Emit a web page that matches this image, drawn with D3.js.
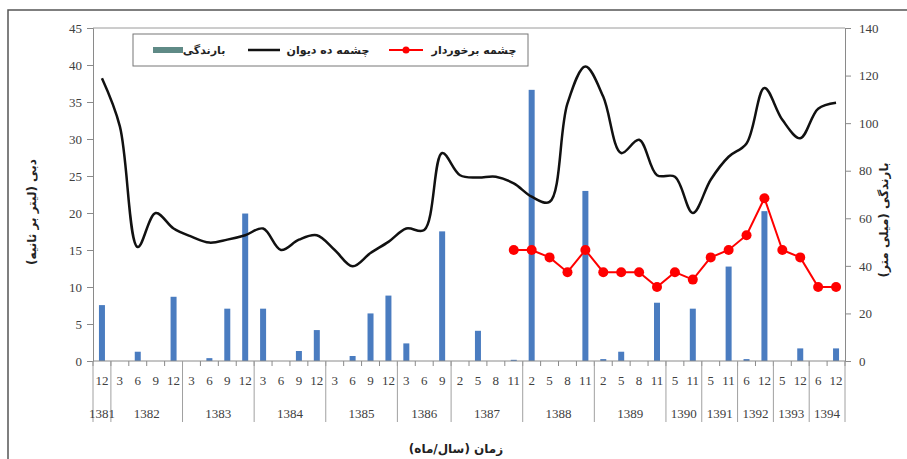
<!DOCTYPE html>
<html>
<head>
<meta charset="utf-8">
<script src="https://cdn.jsdelivr.net/npm/d3@7"></script>
<style>
  body { margin: 0; background: #fff; }
</style>
</head>
<body>
<div id="chart"></div>
<script>
// month of each sample (x categories)
var months = ["12","3","6","9","12","3","6","9","12","3","6","9","12","3","6","9","12",
  "3","6","9","2","5","8","11","2","5","8","11","2","5","8","11","5","11","5","11","6","12","5","12","6","12"];
// year groups and how many samples each one has
var years = ["1381","1382","1383","1384","1385","1386","1387","1388","1389","1390","1391","1392","1393","1394"];
var yearCounts = [1,4,4,4,4,3,4,4,4,2,2,2,2,2];

// rainfall (mm), right axis
var rainfall = [23.5,0,3.9,0,27,0,1.2,22,62,22,0,4.2,13,0,2.1,20,27.5,7.4,0,54.5,0,12.7,0,0.5,
  114,0,0,71.5,0.8,3.9,0,24.5,0,22,0,39.7,0.8,63,0,5.3,0,5.3];
// discharge of Deh Divan spring (l/s), left axis
var dehDivan = [38.2,31.7,15.4,20,17.9,16.8,16,16.4,17,17.9,15,16.4,17,15,12.8,14.6,16.1,17.9,17.7,28.1,
  25.1,24.8,24.9,24,22.2,21.5,34.8,39.8,35.7,28.1,29.9,25.1,24.9,20,24.5,27.6,29.4,36.9,32.6,30.1,34.1,34.9];
// discharge of Barkhordar spring (l/s), left axis
var barkhordar = [null,null,null,null,null,null,null,null,null,null,null,null,null,null,null,null,null,null,null,null,null,null,null,
  15,15,14,12,15,12,12,12,10,12,11,14,15,17,22,15,14,10,10];

var leftTicks = d3.range(0, 46, 5);
var rightTicks = d3.range(0, 141, 20);

var width = 907, height = 459;
var pLeft = 93, pRight = 845, pTop = 28, pBottom = 361;

var svg = d3.select("#chart").append("svg")
    .attr("width", width)
    .attr("height", height);

svg.append("rect")
    .attr("x", 8).attr("y", 10)
    .attr("width", 940).attr("height", 480)
    .attr("fill", "#fff")
    .attr("stroke", "#555").attr("stroke-width", 1.5);

var x = d3.scaleBand().domain(d3.range(months.length)).range([pLeft, pRight]);
var yL = d3.scaleLinear().domain([0, 45]).range([pBottom, pTop]);
var yR = d3.scaleLinear().domain([0, 140]).range([pBottom, pTop]);

function cx(i) { return x(i) + x.bandwidth() / 2; }

// plot frame top line
svg.append("line")
    .attr("x1", pLeft).attr("x2", pRight).attr("y1", pTop).attr("y2", pTop)
    .attr("stroke", "#9a9a9a");

// bars
svg.append("g").selectAll("rect")
  .data(rainfall)
  .enter().append("rect")
    .attr("x", function(d, i) { return cx(i) - 3; })
    .attr("y", function(d) { return yR(d); })
    .attr("width", 6)
    .attr("height", function(d) { return pBottom - yR(d); })
    .attr("fill", "#4a7cc0");

// smooth black line
var blackLine = d3.line()
    .x(function(d, i) { return cx(i); })
    .y(function(d) { return yL(d); })
    .curve(d3.curveCatmullRom.alpha(0.5));

svg.append("path")
    .datum(dehDivan)
    .attr("d", blackLine)
    .attr("fill", "none")
    .attr("stroke", "#111")
    .attr("stroke-width", 2.5);

// red line with markers
var redLine = d3.line()
    .defined(function(d) { return d != null; })
    .x(function(d, i) { return cx(i); })
    .y(function(d) { return yL(d); });

svg.append("path")
    .datum(barkhordar)
    .attr("d", redLine)
    .attr("fill", "none")
    .attr("stroke", "#ff0000")
    .attr("stroke-width", 2);

svg.append("g").selectAll("circle")
  .data(barkhordar.map(function(d, i) { return {v: d, i: i}; }).filter(function(d) { return d.v != null; }))
  .enter().append("circle")
    .attr("cx", function(d) { return cx(d.i); })
    .attr("cy", function(d) { return yL(d.v); })
    .attr("r", 5)
    .attr("fill", "#ff0000");

// axes
var gL = svg.append("g")
    .attr("transform", "translate(" + pLeft + ",0)")
    .call(d3.axisLeft(yL).tickValues(leftTicks).tickSize(6).tickPadding(5));
var gR = svg.append("g")
    .attr("transform", "translate(" + pRight + ",0)")
    .call(d3.axisRight(yR).tickValues(rightTicks).tickSize(6).tickPadding(8));

[gL, gR].forEach(function(g) {
  g.select(".domain").attr("stroke", "#8a8a8a");
  g.selectAll(".tick line").attr("stroke", "#8a8a8a");
  g.selectAll(".tick text")
    .attr("font-family", "Liberation Serif")
    .attr("font-size", 13)
    .attr("fill", "#404040");
});

// x axis line
svg.append("line")
    .attr("x1", pLeft).attr("x2", pRight).attr("y1", pBottom).attr("y2", pBottom)
    .attr("stroke", "#8a8a8a");

// small ticks at each category border
svg.append("g").selectAll("line")
  .data(d3.range(months.length + 1))
  .enter().append("line")
    .attr("x1", function(i) { return pLeft + i * x.step(); })
    .attr("x2", function(i) { return pLeft + i * x.step(); })
    .attr("y1", pBottom).attr("y2", pBottom + 5)
    .attr("stroke", "#8a8a8a");

// month labels
svg.append("g").selectAll("text")
  .data(months)
  .enter().append("text")
    .attr("x", function(d, i) { return cx(i); })
    .attr("y", 385)
    .attr("text-anchor", "middle")
    .attr("font-family", "Liberation Serif")
    .attr("font-size", 13)
    .attr("fill", "#404040")
    .text(function(d) { return d; });

// year groups
var starts = [];
var acc = 0;
yearCounts.forEach(function(c) { starts.push(acc); acc += c; });

svg.append("g").selectAll("line")
  .data(starts.concat([months.length]))
  .enter().append("line")
    .attr("x1", function(s) { return pLeft + s * x.step(); })
    .attr("x2", function(s) { return pLeft + s * x.step(); })
    .attr("y1", pBottom).attr("y2", 422)
    .attr("stroke", "#a0a0a0");

svg.append("g").selectAll("text")
  .data(years)
  .enter().append("text")
    .attr("x", function(d, i) { return pLeft + (starts[i] + yearCounts[i] / 2) * x.step(); })
    .attr("y", 418)
    .attr("text-anchor", "middle")
    .attr("font-family", "Liberation Serif")
    .attr("font-size", 13)
    .attr("fill", "#404040")
    .text(function(d) { return d; });

// persian texts
function faText(sel, size) {
  return sel.attr("direction", "rtl")
    .attr("text-anchor", "middle")
    .attr("font-family", "DejaVu Sans")
    .attr("font-weight", "bold")
    .attr("font-size", size || 11)
    .attr("fill", "#222");
}

faText(svg.append("text"), 12)
    .attr("transform", "translate(36,212) rotate(-90)")
    .text("دبی (لیتر بر ثانیه)");

faText(svg.append("text"), 12)
    .attr("transform", "translate(888,220) rotate(-90)")
    .text("بارندگی (میلی متر)");

faText(svg.append("text"), 12)
    .attr("x", 456).attr("y", 453)
    .text("زمان (سال/ماه)");

// legend
var lg = svg.append("g");
lg.append("rect")
    .attr("x", 133).attr("y", 34)
    .attr("width", 395).attr("height", 32)
    .attr("fill", "#fff")
    .attr("stroke", "#777");

lg.append("rect")
    .attr("x", 153).attr("y", 47)
    .attr("width", 30).attr("height", 6)
    .attr("fill", "#5f8a86");
faText(lg.append("text")).attr("x", 204).attr("y", 54).text("بارندگی");

lg.append("line")
    .attr("x1", 248).attr("x2", 280).attr("y1", 50).attr("y2", 50)
    .attr("stroke", "#111").attr("stroke-width", 2.5);
faText(lg.append("text")).attr("x", 328).attr("y", 54).text("چشمه ده دیوان");

lg.append("line")
    .attr("x1", 389).attr("x2", 423).attr("y1", 50).attr("y2", 50)
    .attr("stroke", "#ff0000").attr("stroke-width", 2);
lg.append("circle")
    .attr("cx", 406).attr("cy", 50).attr("r", 3.5)
    .attr("fill", "#ff0000");
faText(lg.append("text")).attr("x", 474).attr("y", 54).text("چشمه برخوردار");
</script>
</body>
</html>
